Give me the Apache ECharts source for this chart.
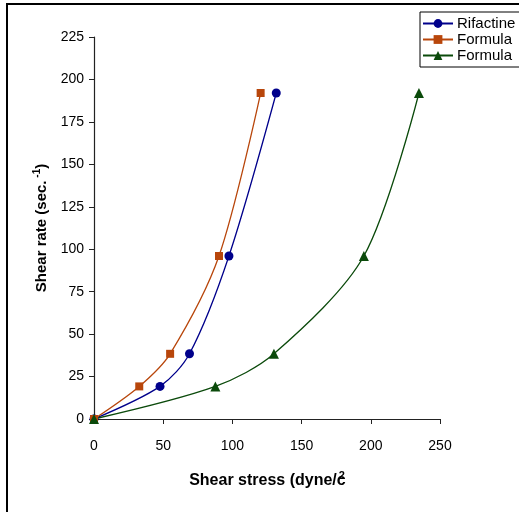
<!DOCTYPE html>
<html>
<head>
<meta charset="utf-8">
<script src="https://cdn.jsdelivr.net/npm/echarts@6/dist/echarts.min.js"></script>
<style>
  html, body { margin: 0; padding: 0; background: #fff; }
  #chart { width: 519px; height: 512px; }
</style>
</head>
<body>
<div id="chart"></div>
<script>
  // values: [shear stress, shear rate]
  var rifactine = [[0, 0], [47.7, 19.2], [69, 38.4], [97.5, 96], [131.7, 192]];
  var formulaA = [[0, 0], [32.7, 19.2], [55, 38.4], [90.3, 96], [120.4, 192]];
  var formulaB = [[0, 0], [87.7, 19.2], [130, 38.4], [195, 96], [234.8, 192]];
  var seriesNames = ["Rifactine", "Formula", "Formula "];

  var chart = echarts.init(document.getElementById("chart"));

  function line(name, data, color, symbol, size) {
    return {
      name: name,
      type: "line",
      data: data,
      smooth: 0.3,
      symbol: symbol,
      symbolSize: size,
      showAllSymbol: true,
      lineStyle: { color: color, width: 1.3 },
      itemStyle: { color: color },
      z: 3
    };
  }

  chart.setOption({
    animation: false,
    textStyle: { fontFamily: "Liberation Sans, Arial, sans-serif" },
    graphic: [{
      type: "rect",
      shape: { x: 7, y: 4, width: 700, height: 700 },
      style: { fill: "none", stroke: "#000", lineWidth: 2 },
      silent: true
    }],
    grid: { left: 94, right: 79, top: 37, bottom: 93 },
    legend: {
      left: 420,
      top: 12,
      orient: "vertical",
      itemGap: 1,
      itemWidth: 30,
      itemHeight: 11,
      padding: [4, 40, 4, 2],
      borderColor: "#000",
      borderWidth: 1,
      textStyle: { fontSize: 15, color: "#000", padding: [0, 0, 0, -1] },
      data: seriesNames
    },
    xAxis: {
      type: "value",
      min: 0,
      max: 250,
      interval: 50,
      name: "{a|Shear stress (dyne/c}{s|2}",
      nameLocation: "middle",
      nameGap: 51,
      nameTextStyle: {
        rich: {
          a: { fontSize: 16, fontWeight: "bold", color: "#000" },
          s: { fontSize: 11, fontWeight: "bold", color: "#000", padding: [0, 0, 11, -7] }
        }
      },
      axisLine: { lineStyle: { color: "#222", width: 1.2 } },
      axisTick: { inside: false, length: 5, lineStyle: { color: "#222" } },
      axisLabel: { fontSize: 14, color: "#000", margin: 20 },
      splitLine: { show: false }
    },
    yAxis: {
      type: "value",
      min: 0,
      max: 225,
      interval: 25,
      name: "{a|Shear rate (sec.}{s| -1}{a|)}",
      nameLocation: "middle",
      nameRotate: 90,
      nameGap: 40,
      nameTextStyle: {
        rich: {
          a: { fontSize: 15, fontWeight: "bold", color: "#000" },
          s: { fontSize: 10, fontWeight: "bold", color: "#000", padding: [0, 0, 10, 0] }
        }
      },
      axisLine: { show: true, lineStyle: { color: "#222", width: 1.2 } },
      axisTick: { show: true, inside: false, length: 5, lineStyle: { color: "#222" } },
      axisLabel: { fontSize: 14, color: "#000", margin: 10 },
      splitLine: { show: false }
    },
    series: [
      line(seriesNames[0], rifactine, "#00008B", "circle", 9),
      line(seriesNames[1], formulaA, "#B8460B", "rect", 8),
      line(seriesNames[2], formulaB, "#0B4A0B", "triangle", 10)
    ]
  });
</script>
</body>
</html>
